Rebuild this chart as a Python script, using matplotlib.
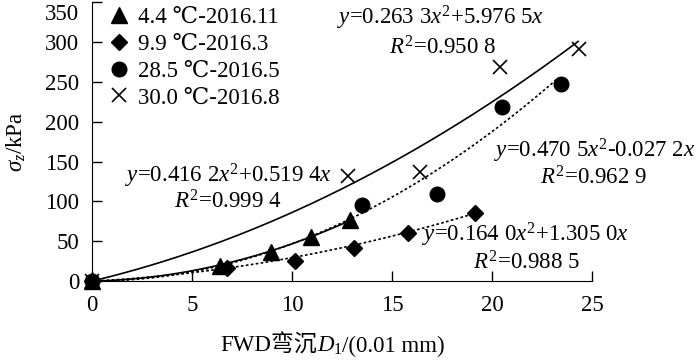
import numpy as np
import matplotlib as mpl
import matplotlib.pyplot as plt
from matplotlib.offsetbox import TextArea, HPacker, AnnotationBbox
from matplotlib.transforms import ScaledTranslation

FS = 16.5
mpl.rcParams.update({
    "font.family": ["Liberation Serif", "DejaVu Serif", "Noto Sans CJK SC"],
    "font.size": FS,
    "mathtext.fontset": "custom",
    "mathtext.rm": "Liberation Serif",
    "mathtext.it": "Liberation Serif:italic",
    "mathtext.bf": "Liberation Serif:bold",
    "xtick.direction": "in",
    "ytick.direction": "in",
    "xtick.labelsize": FS,
    "ytick.labelsize": FS,
})

# measured points (FWD deflection, sigma_z)
d_44 = [0, 6.4, 8.95, 10.95, 12.9]
s_44 = [0, 19, 37, 56, 77]
d_99 = [0, 6.75, 10.15, 13.1, 15.8, 19.15]
s_99 = [0, 16, 25, 42, 60, 86]
d_285 = [0, 13.5, 17.25, 20.5, 23.45]
s_285 = [0, 95, 109, 218, 247]
d_300 = [0, 12.8, 16.4, 20.4, 24.35]
s_300 = [0, 132, 137, 269, 291]

labels = ["4.4 ℃-2016.11", "9.9 ℃-2016.3", "28.5 ℃-2016.5", "30.0 ℃-2016.8"]

# quadratic fits y = a x^2 + b x, and x range of each fit curve
fit_44 = (0.4162, 0.5194, 13.0)
fit_99 = (0.1640, 1.3050, 19.2)
fit_285 = (0.4705, -0.0272, 23.3)
fit_300 = (0.2633, 5.9765, 24.3)

fig = plt.figure(figsize=(7, 3.6), dpi=100)
ax = fig.add_axes([0.131, 0.219, 0.715, 0.775])

ax.plot(d_44, s_44, "^", color="black", ms=11, label=labels[0], zorder=3)
ax.plot(d_99, s_99, "D", color="black", ms=8.5, label=labels[1], zorder=3)
ax.plot(d_285, s_285, "o", color="black", ms=10.5, label=labels[2], zorder=3)
ax.plot(d_300, s_300, "x", color="black", ms=10.5, mew=1.2, label=labels[3], zorder=3)

def fit_line(fit, ls):
    a, b, xmax = fit
    xx = np.linspace(0, xmax, 200)
    ax.plot(xx, a * xx**2 + b * xx, color="black", lw=1.2, ls=ls, zorder=2)

fit_line(fit_44, "-")
fit_line(fit_300, "-")
fit_line(fit_99, (0, (1.6, 1.4)))
fit_line(fit_285, (0, (1.6, 1.4)))

# equation labels
ax.text(17.4, 330, r"$y$=0.263 3$x^2$+5.976 5$x$", ha="center", va="center")
ax.text(17.5, 293, r"$R^2$=0.950 8", ha="center", va="center")
ax.text(6.85, 132, r"$y$=0.416 2$x^2$+0.519 4$x$", ha="center", va="center")
ax.text(6.8, 100, r"$R^2$=0.999 4", ha="center", va="center")
ax.text(25.15, 163, r"$y$=0.470 5$x^2$-0.027 2$x$", ha="center", va="center")
ax.text(25.05, 130, r"$R^2$=0.962 9", ha="center", va="center")
ax.text(21.65, 58, r"$y$=0.164 0$x^2$+1.305 0$x$", ha="center", va="center")
ax.text(21.7, 23, r"$R^2$=0.988 5", ha="center", va="center")

ax.set_xlim(0, 25)
ax.set_ylim(0, 350)
ax.set_xticks([0, 5, 10, 15, 20, 25])
ax.set_yticks(range(0, 351, 50))
ax.tick_params(length=7, width=1)
ax.tick_params(axis="x", pad=10)
ax.tick_params(axis="y", pad=9)
ax.spines["top"].set_visible(False)
ax.spines["right"].set_visible(False)
for ln in ax.lines:
    ln.set_clip_on(False)

# top tick label sits a bit lower, as in the source figure
top_lab = ax.get_yticklabels()[-1]
top_lab.set_transform(top_lab.get_transform() + ScaledTranslation(0, -7 / 72, fig.dpi_scale_trans))

# x label: mixed Chinese text and italic symbol
parts = [TextArea("FWD弯沉", textprops=dict(fontsize=FS)),
         TextArea(r"$D_1$", textprops=dict(fontsize=FS)),
         TextArea("/(0.01 mm)", textprops=dict(fontsize=FS))]
xlab = HPacker(children=parts, sep=0, pad=0, align="baseline")
ab = AnnotationBbox(xlab, (0.475, 0.04), xycoords="figure fraction", frameon=False,
                    box_alignment=(0.5, 0.5), pad=0)
fig.add_artist(ab)

ax.set_ylabel(r"$\sigma_z$/kPa", fontsize=FS, labelpad=12)

ax.legend(loc="upper left", bbox_to_anchor=(0.0, 1.04), frameon=False, handlelength=1.0,
          handletextpad=0.3, labelspacing=0.25, borderaxespad=0.3, fontsize=FS)

fig.savefig("out.png", dpi=100)
